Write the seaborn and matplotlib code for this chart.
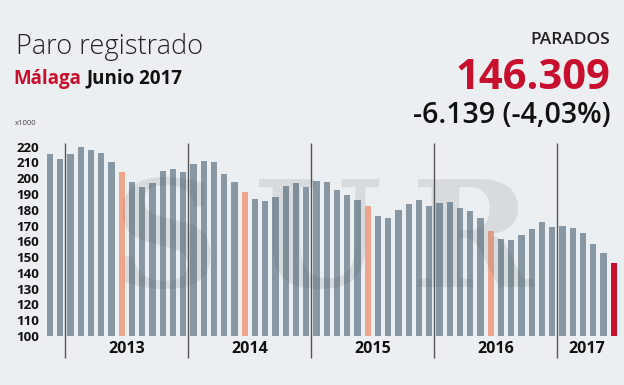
import numpy as np
import pandas as pd
import matplotlib.pyplot as plt
import seaborn as sns

# paro registrado en Malaga, miles de personas (nov 2012 - jun 2017)
meses = pd.period_range("2012-11", periods=56, freq="M")
parados = [215.3, 212.0,
           215.6, 219.6, 218.1, 215.8, 210.5, 203.7, 197.6, 194.4, 197.1, 204.3, 206.0, 203.7,
           209.2, 211.1, 210.3, 202.4, 197.4, 191.0, 186.8, 185.5, 188.3, 194.8, 196.7, 194.2,
           198.0, 197.6, 192.7, 189.1, 185.9, 182.1, 176.2, 175.1, 179.8, 183.4, 186.1, 182.1,
           184.0, 184.9, 181.1, 179.2, 174.7, 166.7, 161.2, 160.7, 163.9, 167.9, 172.2, 168.8,
           169.8, 168.4, 165.4, 158.0, 152.7, 146.3]
years = ["2013", "2014", "2015", "2016", "2017"]
yticks = list(range(100, 221, 10))

bg = "#eceff1"
gris = "#8797a3"
naranja = "#efa58b"
rojo = "#c8102e"

df = pd.DataFrame({"mes": meses.astype(str), "parados": parados})
df["tipo"] = np.where(meses.month == 6, "junio", "normal")
df.loc[df.index[-1], "tipo"] = "actual"

fig = plt.figure(figsize=(6.24, 3.85), dpi=100, facecolor=bg)
ax = fig.add_axes([0.0719, 0.1273, 0.9199, 0.5122], facecolor=bg)

sns.barplot(data=df, x="mes", y="parados", hue="tipo", dodge=False, legend=False,
            palette={"normal": gris, "junio": naranja, "actual": rojo},
            width=0.6, saturation=1, ax=ax)

ax.set_ylim(100, 225)
ax.set_xlim(-0.5, len(df) - 0.5)
ax.set_yticks(yticks)
ax.set_yticklabels([str(t) for t in yticks], fontfamily="Open Sans", fontweight="bold",
                   fontsize=9.5, color="#111111")
ax.tick_params(axis="y", length=0, pad=4)
ax.set_xticks([])
ax.set_xlabel("")
ax.set_ylabel("")
for s in ax.spines.values():
    s.set_visible(False)

# separadores de año
ene = [i for i, m in enumerate(meses) if m.month == 1]
ax.vlines([i - 0.5 for i in ene], 85.8, 222.3, color="#555555", lw=1, clip_on=False, zorder=3)
centros = [(ene[k] - 0.5 + ene[k + 1] - 0.5) / 2 for k in range(len(ene) - 1)] + [52.4]
for c, y in zip(centros, years):
    ax.text(c, 91.5, y, ha="center", va="center", fontfamily="Open Sans",
            fontweight="bold", fontsize=11.5, color="#111111")

# marca de agua
for xp, letra in zip([0.265, 0.51, 0.755], "SUR"):
    fig.text(xp, 0.36, letra, ha="center", va="center", fontfamily="DejaVu Serif",
             fontweight="bold", fontsize=106, color="#505a61", alpha=0.13, zorder=10)

# textos
fig.text(0.025, 0.878, "Paro registrado", fontfamily="Open Sans", fontweight="light",
         fontsize=19.5, color="#222222", va="center")
fig.text(0.022, 0.795, "Málaga", fontfamily="Open Sans", fontweight="bold",
         fontsize=13.5, color=rojo, va="center")
fig.text(0.139, 0.795, "Junio 2017", fontfamily="Open Sans", fontweight="bold",
         fontsize=13.5, color="#111111", va="center")
fig.text(0.024, 0.678, "x1000", fontfamily="Open Sans", fontsize=5.5, color="#444444",
         va="center")
fig.text(0.978, 0.896, "PARADOS", fontfamily="Open Sans", fontweight="semibold",
         fontsize=12.5, color="#222222", ha="right", va="center")
fig.text(0.978, 0.797, "146.309", fontfamily="Open Sans", fontweight="bold",
         fontsize=30, color=rojo, ha="right", va="center")
fig.text(0.978, 0.70, "-6.139 (-4,03%)", fontfamily="Open Sans", fontweight="semibold",
         fontsize=20.5, color="#111111", ha="right", va="center")

fig.savefig("out.png", dpi=100, facecolor=bg)
